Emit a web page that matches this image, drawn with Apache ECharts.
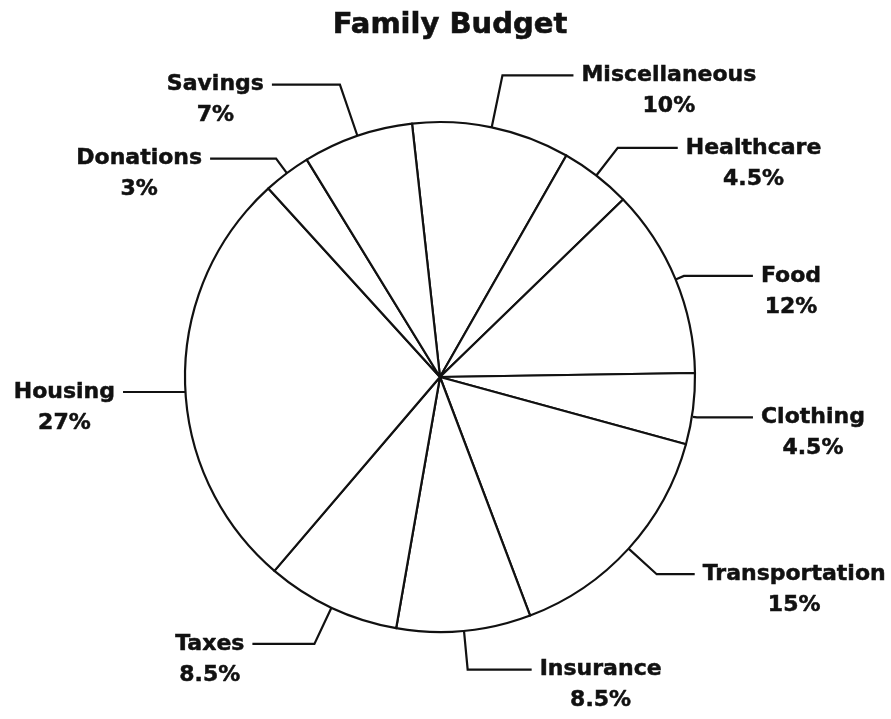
<!DOCTYPE html>
<html><head><meta charset="utf-8">
<script src="https://cdn.jsdelivr.net/npm/echarts@6/dist/echarts.min.js"></script>
<style>html,body{margin:0;padding:0;background:#fff}#c{width:891px;height:719px}</style>
</head><body><div id="c"></div>
<script>
// Data
const categories = ['Miscellaneous', 'Healthcare', 'Food', 'Clothing', 'Transportation', 'Insurance', 'Taxes', 'Housing', 'Donations', 'Savings'];
const shares = [10, 4.5, 12, 4.5, 15, 8.5, 8.5, 27, 3, 7];

// Leader line geometry (style only)
const leaderFirst  = [53, 35, 9, 4, 38, 39, 40, 1, 18, 54];
const leaderSecond = [71, 60, 69, 56, 38, 64, 62, 61, 66, 68];
const leaderDrop   = [0, 0, 0, 8, 0, 0, 0, 11, 0, 0];

const ink = '#111';
const chart = echarts.init(document.getElementById('c'), null, {renderer: 'canvas'});
chart.setOption({
  animation: false,
  backgroundColor: '#fff',
  title: {
    text: 'Family Budget',
    left: 445,
    textAlign: 'center',
    top: 6,
    padding: 5,
    textStyle: {fontFamily: 'DejaVu Sans', fontWeight: 'bold', fontSize: 29, color: ink,
                textBorderColor: ink, textBorderWidth: 0.6}
  },
  series: [{
    type: 'pie',
    center: [440, 377],
    radius: 255,
    startAngle: 96.3,
    clockwise: true,
    avoidLabelOverlap: false,
    emphasis: {disabled: true},
    itemStyle: {color: '#fff', borderColor: ink, borderWidth: 2.2},
    label: {
      show: true,
      position: 'outside',
      distanceToLabelLine: 8,
      formatter: p => '{a|' + p.name + '}\n{a|' + p.value + '%}',
      padding: [31, 0, 0, 0],
      rich: {
        a: {fontFamily: 'DejaVu Sans', fontWeight: 'bold', fontSize: 22, lineHeight: 31, align: 'center', color: ink,
            textBorderColor: ink, textBorderWidth: 0.5}
      }
    },
    labelLine: {show: true, smooth: false, lineStyle: {color: ink, width: 2.2}},
    labelLayout: function (p) {
      const d = leaderDrop[p.dataIndex];
      if (!d || !p.labelLinePoints) return {};
      const pts = p.labelLinePoints;
      return {
        y: pts[pts.length - 1][1] + d,
        labelLinePoints: pts.map(pt => [pt[0], pt[1] + d])
      };
    },
    data: categories.map((name, i) => ({
      name: name,
      value: shares[i],
      labelLine: {length: leaderFirst[i], length2: leaderSecond[i]}
    }))
  }]
});
</script></body></html>
